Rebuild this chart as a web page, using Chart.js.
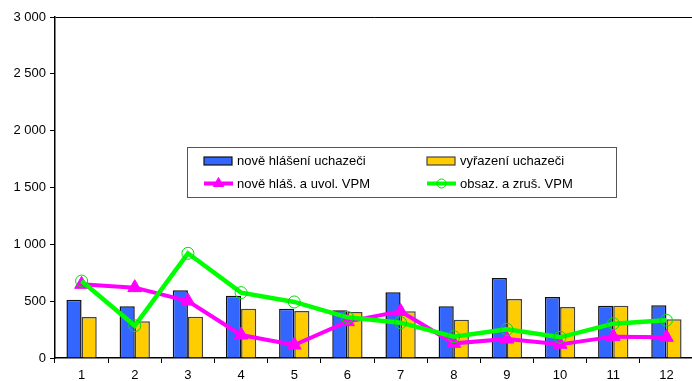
<!DOCTYPE html>
<html>
<head>
<meta charset="utf-8">
<script src="https://cdn.jsdelivr.net/npm/chart.js"></script>
<style>
    html, body { margin: 0; padding: 0; background: #fff; overflow: hidden; }
    #wrap { width: 702px; height: 381px; }
</style>
</head>
<body>
<div id="wrap"><canvas id="chart" width="702" height="381"></canvas></div>
<script>
// --- Data ---
const months = ["1", "2", "3", "4", "5", "6", "7", "8", "9", "10", "11", "12"];
const noveHlaseni = [513, 455, 595, 548, 434, 419, 578, 455, 704, 537, 460, 463];
const vyrazeni = [361, 323, 364, 434, 413, 405, 411, 337, 519, 449, 460, 340];
const noveVpm = [648, 619, 501, 202, 114, 320, 410, 129, 167, 120, 188, 182];
const obsazVpm = [677, 284, 921, 575, 493, 358, 311, 188, 252, 182, 302, 332];

const FONT = "'Liberation Sans', Arial, sans-serif";

function formatThousands(v) {
    return String(v).replace(/\B(?=(\d{3})+(?!\d))/g, " ");
}

// legend box drawn inside the plot, like the original
const boxLegend = {
    id: "boxLegend",
    afterDraw(chart) {
        const ctx = chart.ctx;
        const ds = chart.data.datasets;
        const box = { x: 187.5, y: 147.5, w: 429, h: 50 };
        const cols = [204, 427];
        const rows = [161, 183.5];

        ctx.save();
        ctx.fillStyle = "#fff";
        ctx.fillRect(box.x, box.y, box.w, box.h);
        ctx.strokeStyle = "#555";
        ctx.lineWidth = 1;
        ctx.strokeRect(box.x, box.y, box.w, box.h);

        ctx.font = "13px " + FONT;
        ctx.textBaseline = "middle";

        ds.forEach((d, i) => {
            const x = cols[i % 2];
            const y = rows[Math.floor(i / 2)];
            if (d.type === "bar") {
                ctx.fillStyle = d.backgroundColor;
                ctx.fillRect(x, y - 4, 28, 8);
                ctx.strokeStyle = d.borderColor;
                ctx.lineWidth = 1.2;
                ctx.strokeRect(x, y - 4, 28, 8);
            } else {
                ctx.strokeStyle = d.borderColor;
                ctx.lineWidth = 4;
                ctx.beginPath();
                ctx.moveTo(x, y);
                ctx.lineTo(x + 29, y);
                ctx.stroke();
                ctx.lineWidth = 1;
                ctx.fillStyle = d.pointBackgroundColor;
                ctx.strokeStyle = d.pointBorderColor;
                Chart.helpers.drawPoint(ctx, {
                    pointStyle: d.pointStyle,
                    radius: d.pointStyle === "triangle" ? 6 : 4.5,
                    rotation: 0,
                    borderWidth: 1
                }, x + 14.5, y);
            }
            ctx.fillStyle = "#000";
            ctx.fillText(d.label, x + 33, y + 0.5);
        });
        ctx.restore();
    }
};

new Chart(document.getElementById("chart"), {
    data: {
        labels: months,
        datasets: [
            {
                type: "bar",
                label: "nově hlášení uchazeči",
                data: noveHlaseni,
                backgroundColor: "#3366ff",
                borderColor: "#111",
                borderWidth: 1.5,
                order: 3
            },
            {
                type: "bar",
                label: "vyřazení uchazeči",
                data: vyrazeni,
                backgroundColor: "#ffcc00",
                borderColor: "#444",
                borderWidth: 1.5,
                order: 3
            },
            {
                type: "line",
                label: "nově hláš. a uvol. VPM",
                data: noveVpm,
                borderColor: "#ff00ff",
                borderWidth: 4,
                pointStyle: "triangle",
                pointRadius: 8,
                pointBackgroundColor: "#ff00ff",
                pointBorderColor: "#ff00ff",
                pointBorderWidth: 1,
                tension: 0,
                order: 2
            },
            {
                type: "line",
                label: "obsaz. a zruš. VPM",
                data: obsazVpm,
                borderColor: "#00ff00",
                borderWidth: 4.5,
                pointStyle: "circle",
                pointRadius: 6,
                pointBackgroundColor: "rgba(0,0,0,0)",
                pointBorderColor: "#00dd00",
                pointBorderWidth: 1,
                tension: 0,
                order: 1
            }
        ]
    },
    options: {
        responsive: false,
        animation: false,
        events: [],
        layout: { padding: { top: 17, right: 1, left: 0, bottom: 0 } },
        datasets: {
            bar: { categoryPercentage: 0.57, barPercentage: 1 }
        },
        plugins: {
            legend: { display: false },
            tooltip: { enabled: false }
        },
        scales: {
            x: {
                offset: true,
                grid: {
                    offset: true,
                    color: "rgba(0,0,0,0)",
                    tickColor: "#000",
                    tickLength: 5,
                    drawOnChartArea: false
                },
                border: { color: "#000", width: 1.5 },
                ticks: {
                    color: "#000",
                    font: { family: FONT, size: 13 },
                    padding: 5,
                    maxRotation: 0
                },
                afterFit: (scale) => { scale.height = 23; }
            },
            y: {
                min: 0,
                max: 3000,
                ticks: {
                    stepSize: 500,
                    color: "#000",
                    font: { family: FONT, size: 13 },
                    padding: 4,
                    callback: (v) => formatThousands(v)
                },
                grid: {
                    color: (c) => (c.tick && c.tick.value === 3000 ? "#000" : "rgba(0,0,0,0)"),
                    tickColor: "#000",
                    tickLength: 5,
                    lineWidth: 1
                },
                border: { color: "#000", width: 1.5 },
                afterFit: (scale) => { scale.width = 55; }
            }
        }
    },
    plugins: [boxLegend]
});
</script>
</body>
</html>
